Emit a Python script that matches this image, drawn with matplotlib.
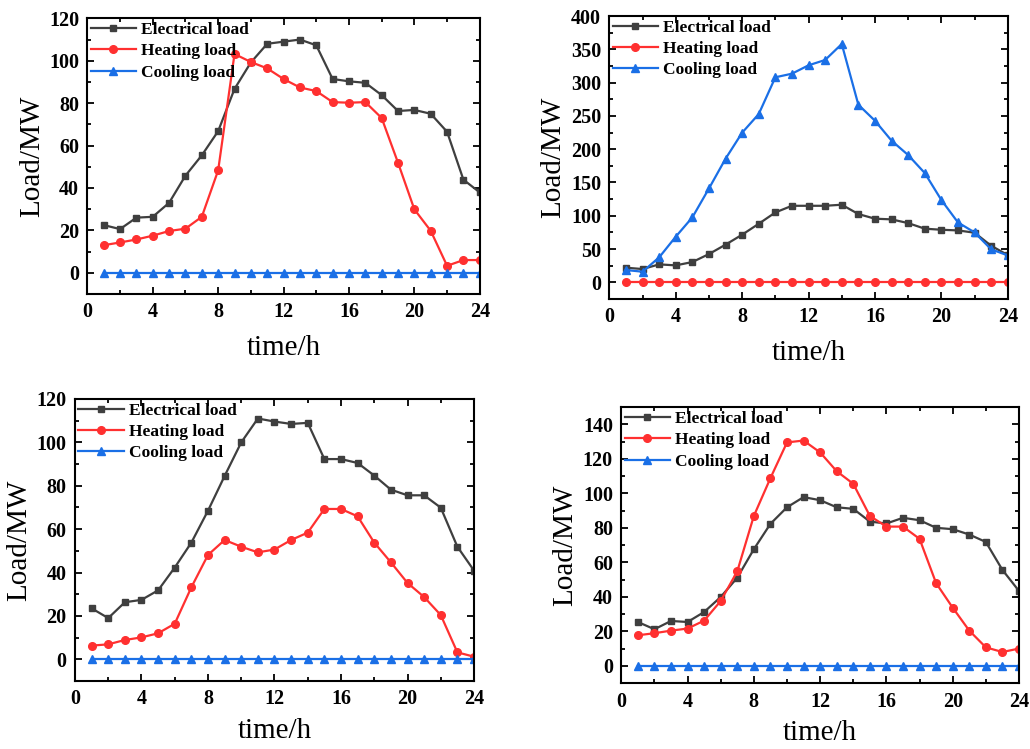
import numpy as np
import matplotlib.pyplot as plt
from matplotlib.ticker import MultipleLocator

plt.rcParams['font.family'] = ['Liberation Serif', 'DejaVu Serif']

hours = list(range(1, 25))

# scenario 1 (top left)
elec_1 = [22.5, 20.6, 26.0, 26.4, 33.0, 45.8, 55.4, 66.8, 86.7, 99.2, 108.0, 109.0,
          110.0, 107.3, 91.4, 90.3, 89.6, 83.8, 76.3, 76.8, 75.0, 66.5, 43.9, 37.9]
heat_1 = [13.0, 14.3, 15.7, 17.5, 19.7, 20.8, 26.4, 48.3, 103.2, 99.4, 96.4, 91.4,
          87.4, 85.7, 80.5, 80.2, 80.5, 73.0, 51.9, 29.9, 19.8, 3.3, 6.0, 6.0]
cool_1 = [0.0] * 24

# scenario 2 (top right)
elec_2 = [22.0, 20.0, 27.0, 25.5, 30.5, 42.5, 56.6, 71.6, 88.0, 105.0, 115.0, 115.0,
          115.0, 116.6, 102.6, 95.6, 94.6, 89.0, 80.6, 79.0, 78.0, 74.6, 55.0, 41.0]
heat_2 = [0.0] * 24
cool_2 = [18.5, 16.0, 37.5, 68.6, 97.6, 141.0, 185.7, 224.8, 252.8, 308.0, 313.4, 326.0,
          334.0, 358.0, 266.8, 242.8, 212.8, 191.2, 164.2, 123.7, 90.0, 75.0, 49.6, 40.5]

# scenario 3 (bottom left)
elec_3 = [23.5, 19.0, 26.3, 27.4, 31.8, 42.3, 53.8, 68.5, 84.5, 100.0, 111.0, 109.6,
          108.5, 109.0, 92.3, 92.3, 90.5, 84.7, 78.2, 75.6, 75.6, 69.9, 51.9, 40.9]
heat_3 = [6.3, 6.9, 8.9, 10.1, 12.0, 16.4, 33.2, 48.1, 55.0, 51.9, 49.3, 50.6,
          55.0, 58.4, 69.3, 69.3, 65.9, 53.8, 44.7, 35.2, 28.7, 20.4, 3.2, 1.2]
cool_3 = [0.0] * 24

# scenario 4 (bottom right)
elec_4 = [25.5, 21.3, 26.1, 25.5, 31.3, 40.0, 51.2, 67.7, 82.4, 92.0, 97.9, 96.1,
          92.0, 91.1, 83.7, 82.6, 85.9, 84.5, 80.1, 79.3, 76.2, 71.9, 55.7, 43.5]
heat_4 = [17.8, 19.0, 20.5, 21.7, 26.3, 37.7, 54.9, 87.0, 108.9, 129.6, 130.7, 123.8,
          112.9, 105.6, 87.0, 80.8, 80.8, 73.7, 48.0, 33.8, 20.5, 10.8, 8.1, 10.1]
cool_4 = [0.0] * 24

panels = [
    # axes rect, ylim, major y step, xlabel pad, data
    ([0.0848, 0.6075, 0.381, 0.368], (-10, 120), 20, 9, elec_1, heat_1, cool_1),
    ([0.5916, 0.6008, 0.3868, 0.3778], (-25, 400), 50, 9, elec_2, heat_2, cool_2),
    ([0.0728, 0.0908, 0.3874, 0.3765], (-10, 120), 20, 6, elec_3, heat_3, cool_3),
    ([0.6032, 0.0878, 0.3861, 0.3685], (-10, 150), 20, 6, elec_4, heat_4, cool_4),
]

C_ELEC = '#3f3f3f'
C_HEAT = '#ff3030'
C_COOL = '#1a6fe6'

fig = plt.figure(figsize=(10.30, 7.49), dpi=100)

for rect, ylim, ystep, xpad, elec, heat, cool in panels:
    ax = fig.add_axes(rect)
    ax.plot(hours, elec, color=C_ELEC, marker='s', ms=5, lw=1.6, label='Electrical load')
    ax.plot(hours, heat, color=C_HEAT, marker='o', ms=5.5, lw=1.6, label='Heating load')
    ax.plot(hours, cool, color=C_COOL, marker='^', ms=5.5, lw=1.6, label='Cooling load')

    ax.set_xlim(0, 24)
    ax.set_ylim(*ylim)
    ax.xaxis.set_major_locator(MultipleLocator(4))
    ax.xaxis.set_minor_locator(MultipleLocator(2))
    ax.yaxis.set_major_locator(MultipleLocator(ystep))
    ax.yaxis.set_minor_locator(MultipleLocator(ystep / 2))
    ax.set_yticks([t for t in ax.get_yticks() if 0 <= t <= ylim[1]])

    ax.tick_params(which='both', direction='in', top=True, right=True, width=1.3)
    ax.tick_params(which='major', length=5, labelsize=14.5, pad=6)
    ax.tick_params(which='minor', length=3)
    for lab in ax.get_xticklabels() + ax.get_yticklabels():
        lab.set_fontweight('bold')
    for sp in ax.spines.values():
        sp.set_linewidth(1.5)

    ax.set_xlabel('time/h', fontsize=21, labelpad=xpad)
    ax.set_ylabel('Load/MW', fontsize=21, labelpad=3)

    leg = ax.legend(loc='upper left', frameon=False, handlelength=2.6, handletextpad=0.3,
                    labelspacing=0.3, borderaxespad=0.1, borderpad=0.1,
                    prop={'weight': 'bold', 'size': 12.5})

fig.savefig('out.png', dpi=100)
